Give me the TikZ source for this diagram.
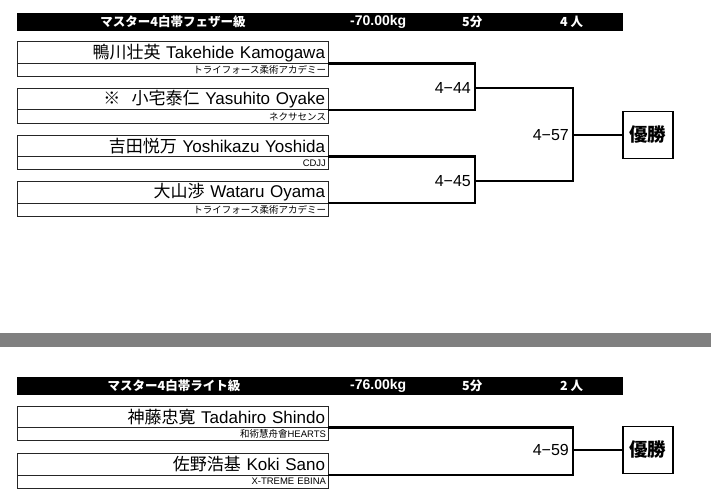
\documentclass[tikz,border=0pt]{standalone}
\usepackage{fontspec}
\setmainfont{Liberation Sans}
\newfontfamily\jp{Noto Sans CJK JP}
\usetikzlibrary{positioning}

\begin{document}
\begin{tikzpicture}[x=1pt, y=-1pt, node distance=12pt,
    namebox/.style={rectangle, draw=black!85, line width=1pt, outer sep=0pt, text width=305pt, align=right, minimum height=21.5pt, inner xsep=3pt, inner ysep=0pt, font=\fontsize{17}{17}\selectfont},
    clubbox/.style={rectangle, draw=black!85, line width=1pt, outer sep=0pt, text width=307pt, align=right, minimum height=13pt, inner xsep=2pt, inner ysep=0pt, font=\fontsize{9.5}{9.5}\selectfont},
    header/.style={rectangle, fill=black, minimum width=606pt, minimum height=18pt, inner sep=0pt},
    hdrtext/.style={text=white, inner sep=0pt, font=\fontsize{12.5}{12.5}\selectfont\bfseries},
    match/.style={inner xsep=4pt, inner ysep=0pt, font=\fontsize{16}{16}\selectfont},
    bracket/.style={line width=2.5pt},
    champ/.style={rectangle, draw, line width=1.5pt, minimum width=50pt, minimum height=47pt, inner sep=0pt, font=\jp\fontsize{18.5}{18.5}\selectfont\bfseries}]
    \useasboundingbox (0,0) rectangle (711,500);

    % Nodes
    \node [header, anchor=north west] (hdr1) at (17,13) {};
    \node [hdrtext] (title1) at (173,22) {\jp マスター4白帯フェザー級};
    \node [hdrtext, anchor=west, font=\fontsize{14}{14}\selectfont\bfseries] (wt1) at (350,22) {-70.00kg};
    \node [hdrtext, anchor=west] (time1) at (462,22) {\jp 5分};
    \node [hdrtext, anchor=west] (num1) at (560,22) {\jp 4 人};

    \node [namebox, anchor=north west] (p1) at (17,42) {{\jp 鴨川壮英} Takehide Kamogawa};
    \node [clubbox, below=0pt of p1] (p1c) {\jp トライフォース柔術アカデミー};
    \node [namebox, below=12pt of p1c] (p2) {{\jp ※\ \ 小宅泰仁} Yasuhito Oyake};
    \node [clubbox, below=0pt of p2] (p2c) {\jp ネクサセンス};
    \node [namebox, below=12pt of p2c] (p3) {{\jp 吉田悦万} Yoshikazu Yoshida};
    \node [clubbox, below=0pt of p3] (p3c) {CDJJ};
    \node [namebox, below=12pt of p3c] (p4) {{\jp 大山渉} Wataru Oyama};
    \node [clubbox, below=0pt of p4] (p4c) {\jp トライフォース柔術アカデミー};

    \coordinate (j44) at (475,88);
    \coordinate (j45) at (475,181);
    \coordinate (j57) at (573,135);
    \node [match, anchor=east] (m44) at (j44) {4−44};
    \node [match, anchor=east] (m45) at (j45) {4−45};
    \node [match, anchor=east] (m57) at (j57) {4−57};
    \node [champ, anchor=west] (win1) at (622,135) {優勝};

    \node [rectangle, fill=black!50, minimum width=711pt, minimum height=14pt, inner sep=0pt, anchor=north west] (band) at (0,333) {};

    \node [header, anchor=north west] (hdr2) at (17,377) {};
    \node [hdrtext] (title2) at (174,386) {\jp マスター4白帯ライト級};
    \node [hdrtext, anchor=west, font=\fontsize{14}{14}\selectfont\bfseries] (wt2) at (350,386) {-76.00kg};
    \node [hdrtext, anchor=west] (time2) at (462,386) {\jp 5分};
    \node [hdrtext, anchor=west] (num2) at (560,386) {\jp 2 人};

    \node [namebox, anchor=north west] (p5) at (17,406) {{\jp 神藤忠寛} Tadahiro Shindo};
    \node [clubbox, below=0pt of p5] (p5c) {{\jp 和術慧舟會}HEARTS};
    \node [namebox, below=13pt of p5c] (p6) {{\jp 佐野浩基} Koki Sano};
    \node [clubbox, below=0pt of p6] (p6c) {X-TREME EBINA};

    \coordinate (j59) at (573,450);
    \node [match, anchor=east] (m59) at (j59) {4−59};
    \node [champ, anchor=west] (win2) at (622,450) {優勝};

    % Edges
    \draw [bracket] (p1c.north east) -| (j44) |- (p2c.north east);
    \draw [bracket] (p3c.north east) -| (j45) |- (p4c.north east);
    \draw [bracket] (j44) -| (j57) |- (j45);
    \draw [line width=2pt] (j57) -- (win1);
    \draw [bracket] (p5c.north east) -| (j59) |- (p6c.north east);
    \draw [line width=2pt] (j59) -- (win2);
\end{tikzpicture}
\end{document}
